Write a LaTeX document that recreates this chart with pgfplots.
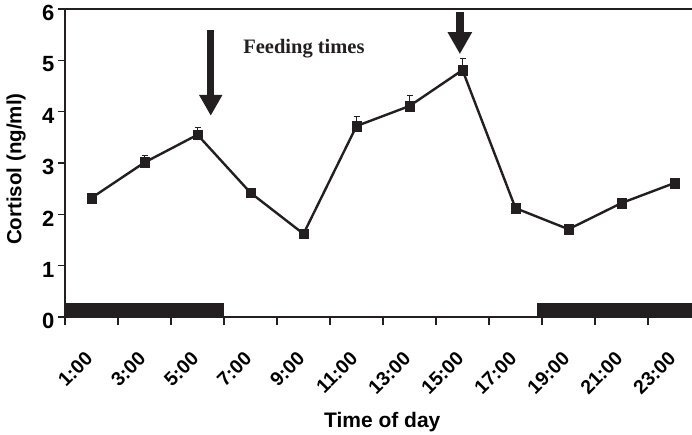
\documentclass[border=0pt]{standalone}
\usepackage{pgfplots}
\pgfplotsset{compat=1.18}
\usepackage{fontspec}
\usetikzlibrary{arrows.meta}
\newfontfamily\arialf{Liberation Sans}
\newfontfamily\timesf{Liberation Serif}
\definecolor{ink}{RGB}{35,31,32}

\begin{document}
\begin{tikzpicture}
\begin{axis}[
  scale only axis,
  width=627pt, height=308pt,
  xmin=0, xmax=23.66,
  ymin=0, ymax=6,
  clip=false,
  axis x line=bottom, axis y line=left,
  axis line style={-, line width=1.6pt, color=ink},
  tick align=outside,
  tick style={line width=1.2pt, color=ink},
  xtick={1,3,...,23},
  xticklabels={1:00,3:00,5:00,7:00,9:00,11:00,13:00,15:00,17:00,19:00,21:00,23:00},
  major x tick style={draw=none},
  minor xtick={0,2,...,22},
  minor tick length=8pt,
  ytick={0,1,...,6},
  major tick length=7pt,
  /pgf/number format/assume math mode=true,
  y tick label style={font=\arialf\bfseries\fontsize{22}{24}\selectfont, yshift=-4pt},
  xticklabel shift=29pt,
  x tick label style={font=\arialf\bfseries\fontsize{19.5}{21}\selectfont, rotate=45, anchor=east},
  xlabel={Time of day},
  ylabel={Cortisol (ng/ml)},
  every axis x label/.style={at={(axis description cs:0.506,-0.358)}, anchor=base,
    font=\arialf\bfseries\fontsize{21}{23}\selectfont},
  every axis y label/.style={at={(axis description cs:-0.078,0.48)}, anchor=center, rotate=90,
    font=\arialf\bfseries\fontsize{20.5}{22}\selectfont},
]
% dark bars along the bottom
\addplot[fill=ink, draw=none] coordinates {(0,0) (0,0.28) (6,0.28) (6,0)} -- cycle;
\addplot[fill=ink, draw=none] coordinates {(17.8,0) (17.8,0.28) (23.66,0.28) (23.66,0)} -- cycle;

\addplot[ink, line width=2.4pt, mark=square*, mark size=4.8pt,
  mark options={solid, line width=0.4pt, fill=ink},
  error bars/.cd, y dir=plus, y explicit,
  error bar style={line width=1pt, ink},
  error mark options={rotate=90, mark size=3pt, line width=1pt, ink}]
coordinates {
  (1,2.32) +- (0,0.05)
  (3,3.01) +- (0,0.14)
  (5,3.55) +- (0,0.15)
  (7,2.42) +- (0,0.05)
  (9,1.62) +- (0,0.04)
  (11,3.72) +- (0,0.18)
  (13,4.11) +- (0,0.20)
  (15,4.81) +- (0,0.23)
  (17,2.12) +- (0,0.05)
  (19,1.71) +- (0,0.04)
  (21,2.22) +- (0,0.05)
  (23,2.61) +- (0,0.06)
};

\draw[ink, line width=1.2pt] (rel axis cs:0,1) -- (rel axis cs:1,1);
\draw[ink, line width=7pt, -{Triangle[width=22pt, length=21pt]}] (axis cs:5.5,5.59) -- (axis cs:5.5,3.92);
\draw[ink, line width=8pt, -{Triangle[width=23pt, length=22pt]}] (axis cs:14.9,5.94) -- (axis cs:14.9,5.12);
\node[anchor=base west, inner sep=0pt, font=\timesf\bfseries\fontsize{20.5}{22}\selectfont, text=ink]
  at (axis cs:6.72,5.14) {Feeding times};

\coordinate (ll) at (rel axis cs:0,0);
\coordinate (ur) at (rel axis cs:1,1);
\end{axis}
\pgfresetboundingbox
\path[use as bounding box] ([xshift=-65pt,yshift=-118pt]ll) rectangle ([yshift=9pt]ur);
\end{tikzpicture}
\end{document}
